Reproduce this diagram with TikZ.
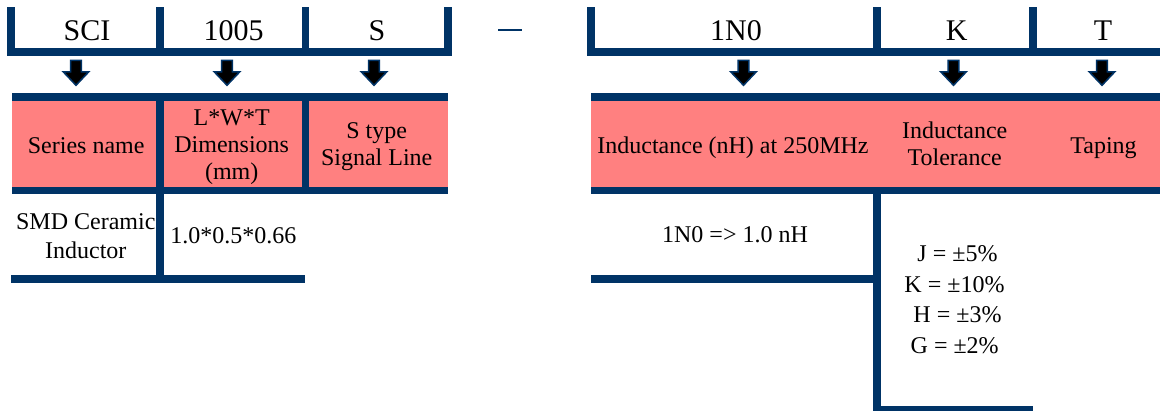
\documentclass[tikz,border=0pt]{standalone}
\usepackage{fontspec}
\setmainfont{Liberation Serif}
\usetikzlibrary{calc}
\definecolor{navy}{RGB}{0,51,102}
\definecolor{pinkfill}{RGB}{255,128,128}
\newcommand\blkarrow[2]{%
  \filldraw[blk] ($(#1)+(-5.3,0)$) -- ($(#1)+(5.3,0)$) -- ($(#2)+(5.3,-13.5)$)
    -- ($(#2)+(12.8,-13.5)$) -- (#2) -- ($(#2)+(-12.8,-13.5)$)
    -- ($(#2)+(-5.3,-13.5)$) -- cycle;}
\begin{document}
\begin{tikzpicture}[x=1pt,y=-1pt,
  bar/.style={fill=navy},
  band/.style={fill=pinkfill},
  big/.style={font=\fontsize{30}{36}\selectfont, anchor=base, inner sep=0pt},
  txt/.style={font=\fontsize{24}{29}\selectfont, anchor=base, inner sep=0pt},
  blk/.style={fill=black, draw=navy, line width=1.5pt, line join=miter}]
\useasboundingbox (0,0) rectangle (1160,410);
\fill[white] (0,0) rectangle (1160,410);

% pink bands
\fill[band] (11.7,101) rectangle (447.7,186.7);
\fill[band] (591,101) rectangle (1160,186.7);

% left top bracket
\fill[bar] (7.3,7.3) rectangle (15,56);
\fill[bar] (7.3,48.3) rectangle (451.7,56);
\fill[bar] (156,7.3) rectangle (164,56);
\fill[bar] (301.7,7.3) rectangle (309.3,56);
\fill[bar] (444,7.3) rectangle (451.7,56);

% right top bracket
\fill[bar] (586.7,7.3) rectangle (595,56);
\fill[bar] (586.7,48.3) rectangle (1160,56);
\fill[bar] (873.3,7.3) rectangle (881,56);
\fill[bar] (1029,7.3) rectangle (1036.7,56);

% dash
\fill[bar] (498,29) rectangle (521.5,31);

% left band lines
\fill[bar] (11.7,93.3) rectangle (447.7,101);
\fill[bar] (11.7,186.7) rectangle (447.7,194.3);
\fill[bar] (156,93.3) rectangle (164,282.7);
\fill[bar] (301.7,93.3) rectangle (309.3,194.3);
\fill[bar] (11,275) rectangle (305,282.7);

% right band lines
\fill[bar] (591,93.3) rectangle (1160,101);
\fill[bar] (591,186.7) rectangle (1160,194.3);
\fill[bar] (591,275) rectangle (881,282.7);
\fill[bar] (873.3,186.7) rectangle (881,414);
\fill[bar] (873.3,406) rectangle (1032.7,414);

% top labels
\node[big] (sci) at (87,40.5) {SCI};
\node[big] (size) at (233.5,40.5) {1005};
\node[big] (stype) at (377,40.5) {S};
\node[big] (ind) at (736,40.5) {1N0};
\node[big] (tol) at (956.7,40.5) {K};
\node[big] (tap) at (1103,40.5) {T};

% arrows
\coordinate (a1s) at (76,60.3);   \coordinate (a1e) at (76,85.3);
\coordinate (a2s) at (227,60.3);  \coordinate (a2e) at (227,85.3);
\coordinate (a3s) at (374,60.3);  \coordinate (a3e) at (374,85.3);
\coordinate (a4s) at (743.5,60.3);\coordinate (a4e) at (743.5,85.3);
\coordinate (a5s) at (953.5,60.3);\coordinate (a5e) at (953.5,85.3);
\coordinate (a6s) at (1102,60.3); \coordinate (a6e) at (1102,85.3);
\blkarrow{a1s}{a1e}
\blkarrow{a2s}{a2e}
\blkarrow{a3s}{a3e}
\blkarrow{a4s}{a4e}
\blkarrow{a5s}{a5e}
\blkarrow{a6s}{a6e}

% band texts
\node[txt] (series) at (86.2,153) {Series name};
\node[txt] (dimA) at (231.7,125.5) {L*W*T};
\node[txt] (dimB) at (231.7,152.5) {Dimensions};
\node[txt] (dimC) at (231.7,179.5) {(mm)};
\node[txt] (stA) at (376.7,138.3) {S type};
\node[txt] (stB) at (376.7,165.3) {Signal Line};
\node[txt] (indtxt) at (733,153) {Inductance (nH) at 250MHz};
\node[txt] (tolA) at (954.7,138.3) {Inductance};
\node[txt] (tolB) at (954.7,165.3) {Tolerance};
\node[txt] (taptxt) at (1103.5,153) {Taping};

% lower texts
\node[txt] (smdA) at (85.8,229.7) {SMD Ceramic};
\node[txt] (smdB) at (85.8,258) {Inductor};
\node[txt] (dimval) at (233.3,243) {1.0*0.5*0.66};
\node[txt] (indval) at (735,242.7) {1N0 => 1.0 nH};
\node[txt] (tJ) at (957.5,261.5) {J = ±5\%};
\node[txt] (tK) at (954.5,292) {K = ±10\%};
\node[txt] (tH) at (957.5,322.5) {H = ±3\%};
\node[txt] (tG) at (954.7,353) {G = ±2\%};
\end{tikzpicture}
\end{document}
